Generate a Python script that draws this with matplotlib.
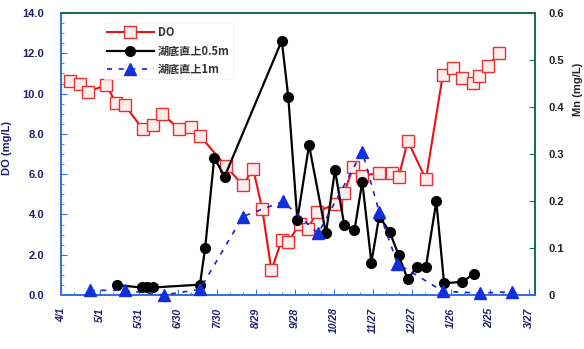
import matplotlib
matplotlib.use("Agg")
import matplotlib.pyplot as plt
from matplotlib.ticker import MultipleLocator

plt.rcParams['font.family'] = ['Liberation Sans', 'Noto Sans CJK JP', 'DejaVu Sans']

# Days counted from 4/1
tick_days = [0, 30, 60, 90, 120, 150, 180, 210, 240, 270, 300, 330, 360]
tick_labels = ["4/1", "5/1", "5/31", "6/30", "7/30", "8/29", "9/28",
               "10/28", "11/27", "12/27", "1/26", "2/25", "3/27"]

# Dissolved oxygen (mg/L)
do_days = [7, 15, 21, 35, 42, 49, 63, 71, 78, 91, 100, 107, 127, 140, 148,
           155, 162, 170, 175, 184, 190, 197, 212, 218, 225, 232, 245, 255,
           260, 267, 281, 294, 302, 309, 317, 322, 329, 337]
do_vals = [10.64, 10.5, 10.1, 10.43, 9.55, 9.43, 8.24, 8.43, 8.99, 8.24,
           8.36, 7.9, 6.4, 5.45, 6.26, 4.25, 1.24, 2.73, 2.65, 3.53, 3.26,
           4.14, 4.52, 5.05, 6.37, 5.91, 6.07, 6.07, 5.84, 7.66, 5.74, 10.92,
           11.29, 10.76, 10.54, 10.87, 11.37, 12.03]

# Mn 0.5 m above the lake bottom (mg/L)
mn05_days = [43, 62, 66, 71, 107, 111, 118, 126, 170, 175, 182, 191, 204,
             211, 218, 226, 232, 239, 245, 253, 260, 267, 274, 281, 289, 295,
             309, 318]
mn05_vals = [0.021, 0.016, 0.016, 0.016, 0.022, 0.10, 0.292, 0.252, 0.541,
             0.422, 0.16, 0.319, 0.131, 0.266, 0.15, 0.138, 0.241, 0.069,
             0.167, 0.135, 0.085, 0.033, 0.060, 0.060, 0.199, 0.025, 0.028,
             0.045]

# Mn 1 m above the lake bottom (mg/L)
mn1_days = [22, 49, 79, 107, 140, 171, 198, 232, 245, 259, 294, 323, 347]
mn1_vals = [0.010, 0.010, 0.0, 0.012, 0.167, 0.199, 0.131, 0.305, 0.177,
            0.067, 0.008, 0.004, 0.007]

navy = '#1f1f6e'
blue_spine = '#3a6ee8'
green_spine = '#1d6b5a'

fig = plt.figure(figsize=(5.84, 3.49), dpi=100)
ax1 = fig.add_axes([61 / 584, 1 - 295 / 349, 474 / 584, 282 / 349])
ax2 = ax1.twinx()

ax1.plot(do_days, do_vals, color='#ee1111', lw=1.5, marker='s', ms=8,
         mfc='#fdeeee', mec='#e83030', mew=1.0, label='DO', zorder=3)
ax2.plot(mn05_days, mn05_vals, color='black', lw=1.6, marker='o', ms=7,
         mfc='black', mec='black', label='湖底直上0.5m', zorder=3)
ax2.plot(mn1_days, mn1_vals, color='#2020c8', lw=1.2, ls=(0, (3, 4)),
         marker='^', ms=8, mfc='#1030e0', mec='#1030e0',
         label='湖底直上1m', zorder=4, clip_on=False)

ax1.set_xlim(0, 365)
ax1.set_ylim(0, 14)
ax2.set_ylim(0, 0.6)

ax1.set_xticks(tick_days)
ax1.set_xticklabels(tick_labels, rotation=90, fontsize=7.5, color=navy,
                    fontweight='bold', fontstyle='italic')
ax1.xaxis.set_minor_locator(MultipleLocator(10))

do_ticks = [0, 2, 4, 6, 8, 10, 12, 14]
ax1.set_yticks(do_ticks)
ax1.set_yticklabels([f"{v:.1f}" for v in do_ticks], fontsize=8,
                    color=navy, fontweight='bold')
ax1.yaxis.set_minor_locator(MultipleLocator(0.5))
ax1.set_ylim(0, 14)

ax2.set_yticks([0, 0.1, 0.2, 0.3, 0.4, 0.5, 0.6])
ax2.set_yticklabels(["0", "0.1", "0.2", "0.3", "0.4", "0.5", "0.6"],
                    fontsize=8, color='#222222', fontweight='bold')

ax1.tick_params(axis='both', which='major', direction='in', length=4,
                color=blue_spine)
ax1.tick_params(axis='both', which='minor', direction='in', length=2,
                color=blue_spine)
ax1.tick_params(axis='y', which='major', pad=12)
ax1.tick_params(axis='x', which='major', pad=9)
ax2.tick_params(axis='y', direction='in', length=4, pad=10,
                color=green_spine)

for ax in (ax1, ax2):
    ax.spines['left'].set_color(blue_spine)
    ax.spines['bottom'].set_color(blue_spine)
    ax.spines['top'].set_color(green_spine)
    ax.spines['right'].set_color(green_spine)
    for s in ax.spines.values():
        s.set_linewidth(1.3)

ax1.set_ylabel('DO (mg/L)', fontsize=8, color=navy, fontweight='bold')
ax1.yaxis.set_label_coords(-0.103, 0.52)
ax2.set_ylabel('Mn (mg/L)', fontsize=8, color='#222222', fontweight='bold',
               rotation=90)
ax2.yaxis.set_label_coords(1.08, 0.73)

ax1.set_zorder(1)
ax2.set_zorder(2)
ax1.patch.set_visible(True)
ax2.patch.set_visible(False)

h1, l1 = ax1.get_legend_handles_labels()
h2, l2 = ax2.get_legend_handles_labels()
leg = ax2.legend(h1 + h2, l1 + l2, loc='upper left',
                 bbox_to_anchor=(98 / 584, 1 - 17 / 349),
                 bbox_transform=fig.transFigure, frameon=True,
                 handlelength=4.2, handletextpad=0.4,
                 labelspacing=0.5, borderpad=0.3,
                 prop={'family': ['Noto Sans CJK JP', 'DejaVu Sans'],
                       'weight': 'bold', 'size': 8})
leg.get_frame().set_edgecolor('#f0f0f0')
leg.get_frame().set_linewidth(0.6)
leg.get_frame().set_boxstyle('square', pad=0.0)
for t in leg.get_texts():
    t.set_color('#333333')

fig.savefig('out.png', dpi=100)
